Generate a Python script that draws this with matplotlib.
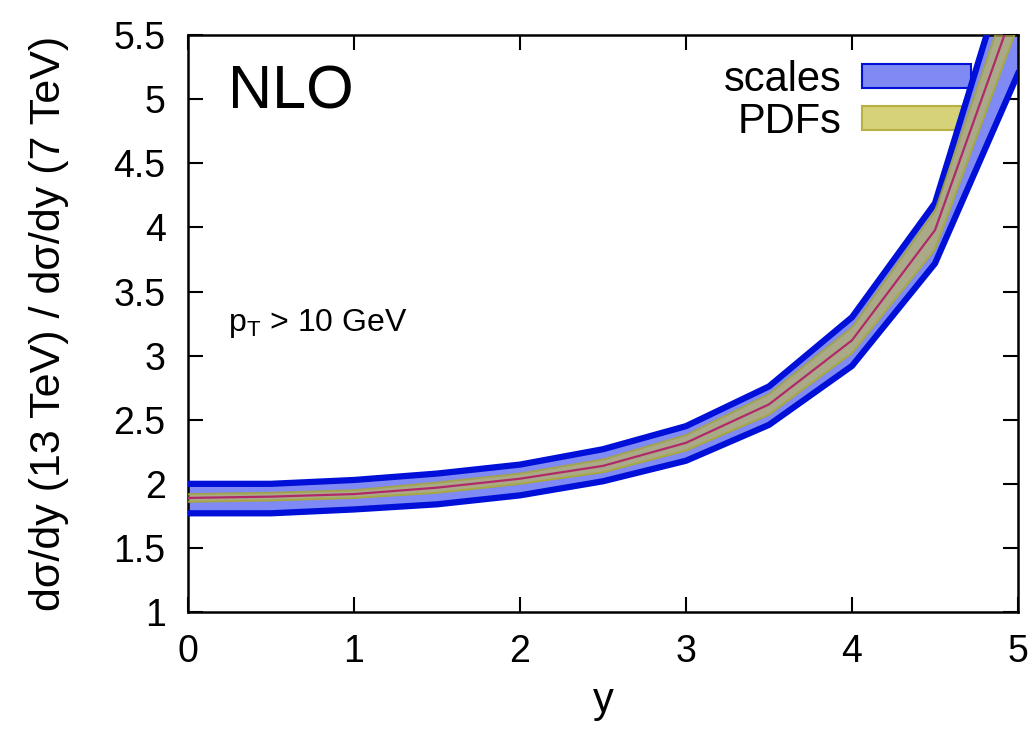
import numpy as np
import matplotlib
matplotlib.use("Agg")
import matplotlib.pyplot as plt
from matplotlib.patches import Patch

plt.rcParams['font.family'] = ['Liberation Sans', 'DejaVu Sans']

# rapidity points
y = [0, 0.5, 1, 1.5, 2, 2.5, 3, 3.5, 4, 4.5, 5]
# central ratio
central = [1.89, 1.90, 1.92, 1.97, 2.04, 2.14, 2.32, 2.62, 3.12, 3.98, 5.80]
# scale band
scale_hi = [2.00, 2.00, 2.03, 2.08, 2.15, 2.27, 2.45, 2.76, 3.30, 4.19, 6.30]
scale_lo = [1.77, 1.77, 1.80, 1.84, 1.91, 2.02, 2.18, 2.46, 2.92, 3.72, 5.20]
# PDF band
pdf_hi = [1.92, 1.93, 1.95, 2.01, 2.08, 2.19, 2.38, 2.70, 3.22, 4.13, 6.02]
pdf_lo = [1.86, 1.87, 1.89, 1.93, 2.00, 2.09, 2.26, 2.54, 3.02, 3.83, 5.58]

fig = plt.figure(figsize=(10.35, 7.31), dpi=100)
ax = fig.add_axes([0.1816, 0.1628, 0.802, 0.789])

ax.fill_between(y, scale_lo, scale_hi, color='#7f8af5', lw=0, zorder=2)
ax.plot(y, scale_hi, color='#0010d8', lw=4.5, zorder=3)
ax.plot(y, scale_lo, color='#0010d8', lw=4.5, zorder=3)
ax.fill_between(y, pdf_lo, pdf_hi, color='#c8c040', alpha=0.6, lw=0, zorder=3)
ax.plot(y, pdf_hi, color='#a8a830', lw=1.5, alpha=0.8, zorder=3)
ax.plot(y, pdf_lo, color='#a8a830', lw=1.5, alpha=0.8, zorder=3)
ax.plot(y, central, color='#b02a6a', lw=1.6, zorder=4)

ax.set_xlim(0, 5)
ax.set_ylim(1, 5.5)
ax.set_xticks([0, 1, 2, 3, 4, 5])
ax.set_yticks([1, 1.5, 2, 2.5, 3, 3.5, 4, 4.5, 5, 5.5])
ax.set_yticklabels(['1', '1.5', '2', '2.5', '3', '3.5', '4', '4.5', '5', '5.5'])
ax.tick_params(direction='in', length=11, width=1.5, top=True, right=True,
               labelsize=27)
ax.tick_params(axis='y', pad=16)
ax.tick_params(axis='x', pad=16)
for s in ax.spines.values():
    s.set_linewidth(1.8)

ax.set_xlabel('y', fontsize=30, labelpad=8)
ax.set_ylabel('d\u03c3/dy (13 TeV) / d\u03c3/dy (7 TeV)', fontsize=31, labelpad=32)

ax.text(0.048, 0.95, 'NLO', transform=ax.transAxes, fontsize=44, va='top', ha='left')
ax.text(0.048, 0.50, r'p$_\mathregular{T}$ > 10 GeV', transform=ax.transAxes,
        fontsize=23, va='center', ha='left')

handles = [Patch(facecolor='#7f8af5', edgecolor='#0010d8', lw=1.5),
           Patch(facecolor='#d6d27a', edgecolor='#b8b040', lw=1.5)]
leg = ax.legend(handles, ['scales', 'PDFs'], loc='upper right', bbox_to_anchor=(0.968, 0.994),
                frameon=False, fontsize=30, markerfirst=False, handlelength=2.6,
                handleheight=0.52, labelspacing=0.05, handletextpad=0.5, borderpad=0)
leg.set_zorder(1)

fig.savefig('out.png', dpi=100)
